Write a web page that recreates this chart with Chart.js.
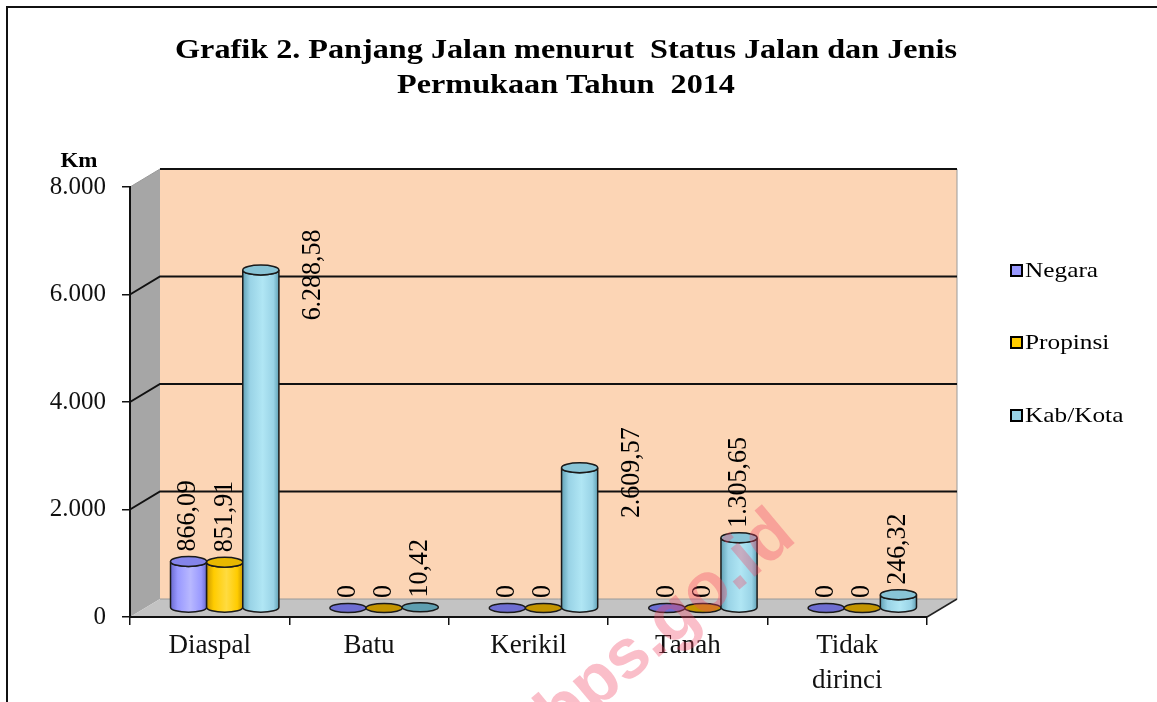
<!DOCTYPE html>
<html>
<head>
<meta charset="utf-8">
<script src="https://cdn.jsdelivr.net/npm/chart.js@4/dist/chart.umd.min.js"></script>
<style>
  html, body { margin: 0; padding: 0; background: #fff; }
  canvas { display: block; }
</style>
</head>
<body>
<canvas id="chartJalan" width="1157" height="702"></canvas>
<script>
// DATA
const categories = ['Diaspal', 'Batu', 'Kerikil', 'Tanah', ['Tidak', 'dirinci']];
const negara = [866.09, 0, 0, 0, 0];
const propinsi = [851.91, 0, 0, 0, 0];
const kabKota = [6288.58, 10.42, 2609.57, 1305.65, 246.32];
const seriesNames = ['Negara', 'Propinsi', 'Kab/Kota'];
const yTicks = [0, 2000, 4000, 6000, 8000];
const yTickLabels = ['0', '2.000', '4.000', '6.000', '8.000'];
const titleLines = ['Grafik 2. Panjang Jalan menurut  Status Jalan dan Jenis', 'Permukaan Tahun  2014'];
const unitLabel = 'Km';

// STYLE
const SERIF = '"Liberation Serif", "Times New Roman", serif';
const DEPTH_X = 30, DEPTH_Y = 18;
const TEXT_STRETCH = 1.15; // the original text looks a bit wide
const colors = [
    { body: '#9999FF', light: '#B8B8FF', dark: '#6A6AD0', top: '#8484EA', disc: '#6E6ED2' },
    { body: '#FFCC00', light: '#FFDB40', dark: '#CC9A00', top: '#E8B800', disc: '#C39400' },
    { body: '#99D3E6', light: '#B0E6F4', dark: '#62A2B6', top: '#88C4D6', disc: '#5E9EB0' }
];

// number format 1.234,56
function fmt(v) {
    if (v === 0) return '0';
    const parts = v.toFixed(2).split('.');
    return parts[0].replace(/\B(?=(\d{3})+(?!\d))/g, '.') + ',' + parts[1];
}

// text drawn a little wider, like the original
function wideText(ctx, text, x, y, align) {
    const w = ctx.measureText(text).width * TEXT_STRETCH;
    let left = x;
    if (align === 'center') left = x - w / 2;
    if (align === 'right') left = x - w;
    ctx.save();
    ctx.textAlign = 'left';
    ctx.translate(left, y);
    ctx.scale(TEXT_STRETCH, 1);
    ctx.fillText(text, 0, 0);
    ctx.restore();
}

function cylinder(ctx, cx, top, base, w, c) {
    const rx = w / 2, ry = 5;
    ctx.lineWidth = 1.5;
    ctx.strokeStyle = '#1a1a1a';
    if (base - top < 2) {
        ctx.beginPath();
        ctx.ellipse(cx, base, rx, ry - 0.5, 0, 0, Math.PI * 2);
        ctx.fillStyle = c.disc;
        ctx.fill();
        ctx.stroke();
        return;
    }
    const grad = ctx.createLinearGradient(cx - rx, 0, cx + rx, 0);
    grad.addColorStop(0, c.dark);
    grad.addColorStop(0.2, c.body);
    grad.addColorStop(0.55, c.light);
    grad.addColorStop(0.85, c.body);
    grad.addColorStop(1, c.dark);
    ctx.beginPath();
    ctx.moveTo(cx - rx, top);
    ctx.lineTo(cx - rx, base);
    ctx.ellipse(cx, base, rx, ry, 0, Math.PI, 0, true);
    ctx.lineTo(cx + rx, top);
    ctx.ellipse(cx, top, rx, ry, 0, 0, Math.PI, false);
    ctx.closePath();
    ctx.fillStyle = grad;
    ctx.fill();
    ctx.stroke();
    ctx.beginPath();
    ctx.ellipse(cx, top, rx, ry, 0, 0, Math.PI * 2);
    ctx.fillStyle = c.top;
    ctx.fill();
    ctx.stroke();
}

// walls, floor, grid
const wallsPlugin = {
    id: 'walls',
    beforeDraw(chart) {
        const ctx = chart.ctx;
        const a = chart.chartArea;
        const ys = chart.scales.y;
        ctx.save();
        ctx.fillStyle = '#fff';
        ctx.fillRect(0, 0, chart.width, chart.height);
        // frame
        ctx.strokeStyle = '#111';
        ctx.lineWidth = 2;
        ctx.beginPath();
        ctx.moveTo(7, chart.height);
        ctx.lineTo(7, 7);
        ctx.lineTo(chart.width, 7);
        ctx.stroke();

        const bl = a.left + DEPTH_X, bt = a.top - DEPTH_Y, br = a.right + DEPTH_X, bb = a.bottom - DEPTH_Y;
        // back wall
        ctx.fillStyle = '#FCD5B5';
        ctx.fillRect(bl, bt, br - bl, bb - bt);
        // side wall
        ctx.fillStyle = '#A6A6A6';
        ctx.beginPath();
        ctx.moveTo(a.left, a.top); ctx.lineTo(bl, bt); ctx.lineTo(bl, bb); ctx.lineTo(a.left, a.bottom);
        ctx.closePath(); ctx.fill();
        // floor
        ctx.fillStyle = '#C3C3C3';
        ctx.beginPath();
        ctx.moveTo(a.left, a.bottom); ctx.lineTo(a.right, a.bottom); ctx.lineTo(br, bb); ctx.lineTo(bl, bb);
        ctx.closePath(); ctx.fill();
        // edges
        ctx.lineWidth = 1;
        ctx.strokeStyle = '#9a9a9a';
        ctx.beginPath();
        ctx.moveTo(bl, bb); ctx.lineTo(br, bb);
        ctx.moveTo(br, bt); ctx.lineTo(br, bb);
        ctx.moveTo(a.left, a.top); ctx.lineTo(bl, bt);
        ctx.stroke();
        ctx.strokeStyle = '#222';
        ctx.lineWidth = 1.5;
        ctx.beginPath();
        ctx.moveTo(a.right, a.bottom); ctx.lineTo(br, bb);
        ctx.stroke();
        // grid lines
        ctx.strokeStyle = '#111';
        ctx.lineWidth = 2;
        yTicks.forEach((v, i) => {
            if (v === 0) return;
            const yf = ys.getPixelForValue(v);
            ctx.beginPath();
            if (i < yTicks.length - 1) {
                ctx.moveTo(a.left, yf);
                ctx.lineTo(bl, yf - DEPTH_Y);
            } else {
                ctx.moveTo(bl, yf - DEPTH_Y);
            }
            ctx.lineTo(br, yf - DEPTH_Y);
            ctx.stroke();
        });
        ctx.restore();
    }
};

// cylinders and value labels
const cylinderPlugin = {
    id: 'cylinders',
    beforeDatasetsDraw(chart) {
        const ctx = chart.ctx;
        const n = chart.data.labels.length;
        const labels = [];
        ctx.save();
        for (let i = 0; i < n; i++) {
            chart.data.datasets.forEach((ds, d) => {
                const el = chart.getDatasetMeta(d).data[i];
                const cx = el.x + DEPTH_X / 2;
                const top = el.y - DEPTH_Y / 2;
                const base = el.base - DEPTH_Y / 2;
                cylinder(ctx, cx, top, base, el.width, colors[d]);
                labels.push({ v: ds.data[i], cx, top, w: el.width });
            });
        }
        // labels, rotated
        ctx.fillStyle = '#000';
        ctx.font = '24px ' + SERIF;
        ctx.textBaseline = 'middle';
        labels.forEach(l => {
            ctx.save();
            if (l.v > 2000) {
                ctx.translate(l.cx + l.w * 1.45, l.top + 5);
                ctx.textAlign = 'center';
            } else {
                ctx.translate(l.cx, l.top - 10);
                ctx.textAlign = 'left';
            }
            ctx.rotate(-Math.PI / 2);
            ctx.scale(1.08, 1.1);
            ctx.fillText(fmt(l.v), 0, 0);
            ctx.restore();
        });
        ctx.restore();
        return false;
    }
};

// title, unit, legend, watermark
const textPlugin = {
    id: 'texts',
    afterDraw(chart) {
        const ctx = chart.ctx;
        ctx.save();
        ctx.fillStyle = '#000';
        ctx.textBaseline = 'alphabetic';
        ctx.font = 'bold 28px ' + SERIF;
        wideText(ctx, titleLines[0], 566, 58, 'center');
        wideText(ctx, titleLines[1], 566, 93, 'center');
        ctx.font = 'bold 20px ' + SERIF;
        wideText(ctx, unitLabel, 79, 167, 'center');

        // legend
        const rows = [271, 343, 416];
        ctx.textBaseline = 'middle';
        ctx.font = '22px ' + SERIF;
        chart.data.datasets.forEach((ds, d) => {
            const y = rows[d];
            ctx.fillStyle = ds.backgroundColor;
            ctx.fillRect(1011, y - 6, 11, 11);
            ctx.strokeStyle = '#000';
            ctx.lineWidth = 2;
            ctx.strokeRect(1011, y - 6, 11, 11);
            ctx.fillStyle = '#000';
            wideText(ctx, ds.label, 1025, y, 'left');
        });

        // watermark
        ctx.translate(560, 740);
        ctx.rotate(-40 * Math.PI / 180);
        ctx.font = 'bold 70px "Liberation Sans", Arial, sans-serif';
        ctx.fillStyle = 'rgba(240, 70, 100, 0.35)';
        ctx.textAlign = 'left';
        ctx.textBaseline = 'alphabetic';
        ctx.fillText('bps.go.id', 0, 0);
        ctx.restore();
    }
};

const seriesData = [negara, propinsi, kabKota];

new Chart(document.getElementById('chartJalan').getContext('2d'), {
    type: 'bar',
    data: {
        labels: categories,
        datasets: seriesNames.map((name, d) => ({
            label: name,
            data: seriesData[d],
            backgroundColor: colors[d].body,
            categoryPercentage: 0.68,
            barPercentage: 1
        }))
    },
    options: {
        responsive: false,
        animation: false,
        devicePixelRatio: 1,
        layout: { padding: { left: 0, top: 187, right: 230, bottom: 0 } },
        plugins: {
            legend: { display: false },
            title: { display: false },
            tooltip: { enabled: false }
        },
        scales: {
            x: {
                afterFit(scale) { scale.height = 85; },
                grid: { drawOnChartArea: false, drawTicks: true, tickLength: 8, color: '#111', lineWidth: 1.5, offset: true },
                border: { display: true, color: '#111', width: 2 },
                ticks: { color: '#111', font: { family: SERIF, size: 27, lineHeight: 1.3 }, padding: 3, maxRotation: 0 }
            },
            y: {
                min: 0,
                max: 8000,
                afterFit(scale) { scale.width = 130; },
                grid: { drawOnChartArea: false, drawTicks: true, tickLength: 8, color: '#111', lineWidth: 1.5 },
                border: { display: true, color: '#111', width: 2 },
                ticks: {
                    stepSize: 2000,
                    color: '#111',
                    padding: 16,
                    font: { family: SERIF, size: 25 },
                    callback: v => yTickLabels[yTicks.indexOf(v)]
                }
            }
        }
    },
    plugins: [wallsPlugin, cylinderPlugin, textPlugin]
});
</script>
</body>
</html>
